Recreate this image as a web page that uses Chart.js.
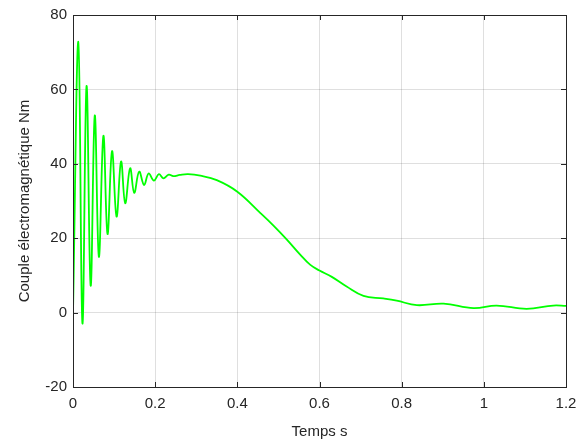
<!DOCTYPE html>
<html>
<head>
<meta charset="utf-8">
<script src="https://cdn.jsdelivr.net/npm/chart.js@4/dist/chart.umd.min.js"></script>
<style>
  html, body { margin: 0; padding: 0; background: #fff; }
  #wrap { width: 586px; height: 443px; }
</style>
</head>
<body>
<div id="wrap"><canvas id="TorqueChart" width="586" height="443"></canvas></div>
<script>
// (s, Nm)
const time = [0, 0.013, 0.023, 0.033, 0.043, 0.053, 0.063, 0.074, 0.084, 0.095, 0.106, 0.117, 0.127, 0.139, 0.149,
    0.161, 0.173, 0.184, 0.197, 0.209, 0.220, 0.233, 0.244, 0.26, 0.28, 0.31, 0.35, 0.40, 0.455, 0.488, 0.52,
    0.553, 0.577, 0.600, 0.630, 0.666, 0.707, 0.755, 0.788, 0.837, 0.902, 0.975, 1.031, 1.104, 1.169, 1.2];
const torque = [0, 72.8, -2.9, 60.9, 7.2, 53.0, 15.0, 47.5, 21.1, 43.4, 25.8, 40.6, 29.4, 38.8, 32.2,
    37.9, 34.3, 37.4, 35.5, 37.2, 36.1, 37.1, 36.7, 37.0, 37.2, 36.8, 35.6, 32.5, 26.9, 23.4, 19.7,
    15.6, 12.9, 11.3, 9.6, 7.0, 4.5, 3.8, 3.2, 2.0, 2.4, 1.2, 1.9, 1.0, 1.9, 1.8];

const xTicks = [0, 0.2, 0.4, 0.6, 0.8, 1, 1.2];
const xTickLabels = ['0', '0.2', '0.4', '0.6', '0.8', '1', '1.2'];
const yTicks = [-20, 0, 20, 40, 60, 80];
const yTickLabels = ['-20', '0', '20', '40', '60', '80'];

const axisColor = '#262626';
const gridColor = 'rgba(38,38,38,0.15)';
const font = { family: "'Liberation Sans', Arial, sans-serif", size: 15 };

// box round the plot with inward tick marks, like matlab
const boxPlugin = {
    id: 'box',
    afterDraw(chart) {
        const { ctx, chartArea: a, scales } = chart;
        ctx.save();
        ctx.strokeStyle = axisColor;
        ctx.lineWidth = 1;
        ctx.strokeRect(a.left + 0.5, a.top + 0.5, a.right - a.left, a.bottom - a.top);
        ctx.beginPath();
        xTicks.forEach((v) => {
            const px = Math.round(scales.x.getPixelForValue(v)) + 0.5;
            ctx.moveTo(px, a.bottom); ctx.lineTo(px, a.bottom - 5);
            ctx.moveTo(px, a.top); ctx.lineTo(px, a.top + 5);
        });
        yTicks.forEach((v) => {
            const py = Math.round(scales.y.getPixelForValue(v)) + 0.5;
            ctx.moveTo(a.left, py); ctx.lineTo(a.left + 5, py);
            ctx.moveTo(a.right, py); ctx.lineTo(a.right - 5, py);
        });
        ctx.stroke();
        ctx.restore();
    }
};

const ctx = document.getElementById('TorqueChart');
new Chart(ctx, {
    type: 'line',
    data: {
        datasets: [{
            data: time.map((t, i) => ({ x: t, y: torque[i] })),
            borderColor: '#00ff00',
            borderWidth: 1.8,
            pointRadius: 0,
            tension: 0.4,
            fill: false
        }]
    },
    options: {
        responsive: false,
        animation: false,
        layout: { padding: { top: 15, right: 20, left: 0, bottom: 0 } },
        plugins: { legend: { display: false }, tooltip: { enabled: false } },
        scales: {
            x: {
                type: 'linear',
                min: 0,
                max: 1.2,
                afterBuildTicks: (scale) => { scale.ticks = xTicks.map((v) => ({ value: v })); },
                afterFit: (scale) => { scale.height = 56; },
                ticks: {
                    color: axisColor,
                    font: font,
                    padding: 8,
                    maxRotation: 0,
                    callback: (v) => xTickLabels[xTicks.indexOf(v)]
                },
                grid: { color: gridColor, drawTicks: false },
                border: { display: false },
                title: { display: true, text: 'Temps s', color: axisColor, font: font, padding: { top: 0, bottom: 2 } }
            },
            y: {
                type: 'linear',
                min: -20,
                max: 80,
                afterBuildTicks: (scale) => { scale.ticks = yTicks.map((v) => ({ value: v })); },
                afterFit: (scale) => { scale.width = 73; },
                ticks: {
                    color: axisColor,
                    font: font,
                    padding: 6,
                    callback: (v) => yTickLabels[yTicks.indexOf(v)]
                },
                grid: { color: gridColor, drawTicks: false },
                border: { display: false },
                title: { display: true, text: 'Couple électromagnétique Nm', color: axisColor, font: font, padding: { top: 16, bottom: 0 } }
            }
        }
    },
    plugins: [boxPlugin]
});
</script>
</body>
</html>
